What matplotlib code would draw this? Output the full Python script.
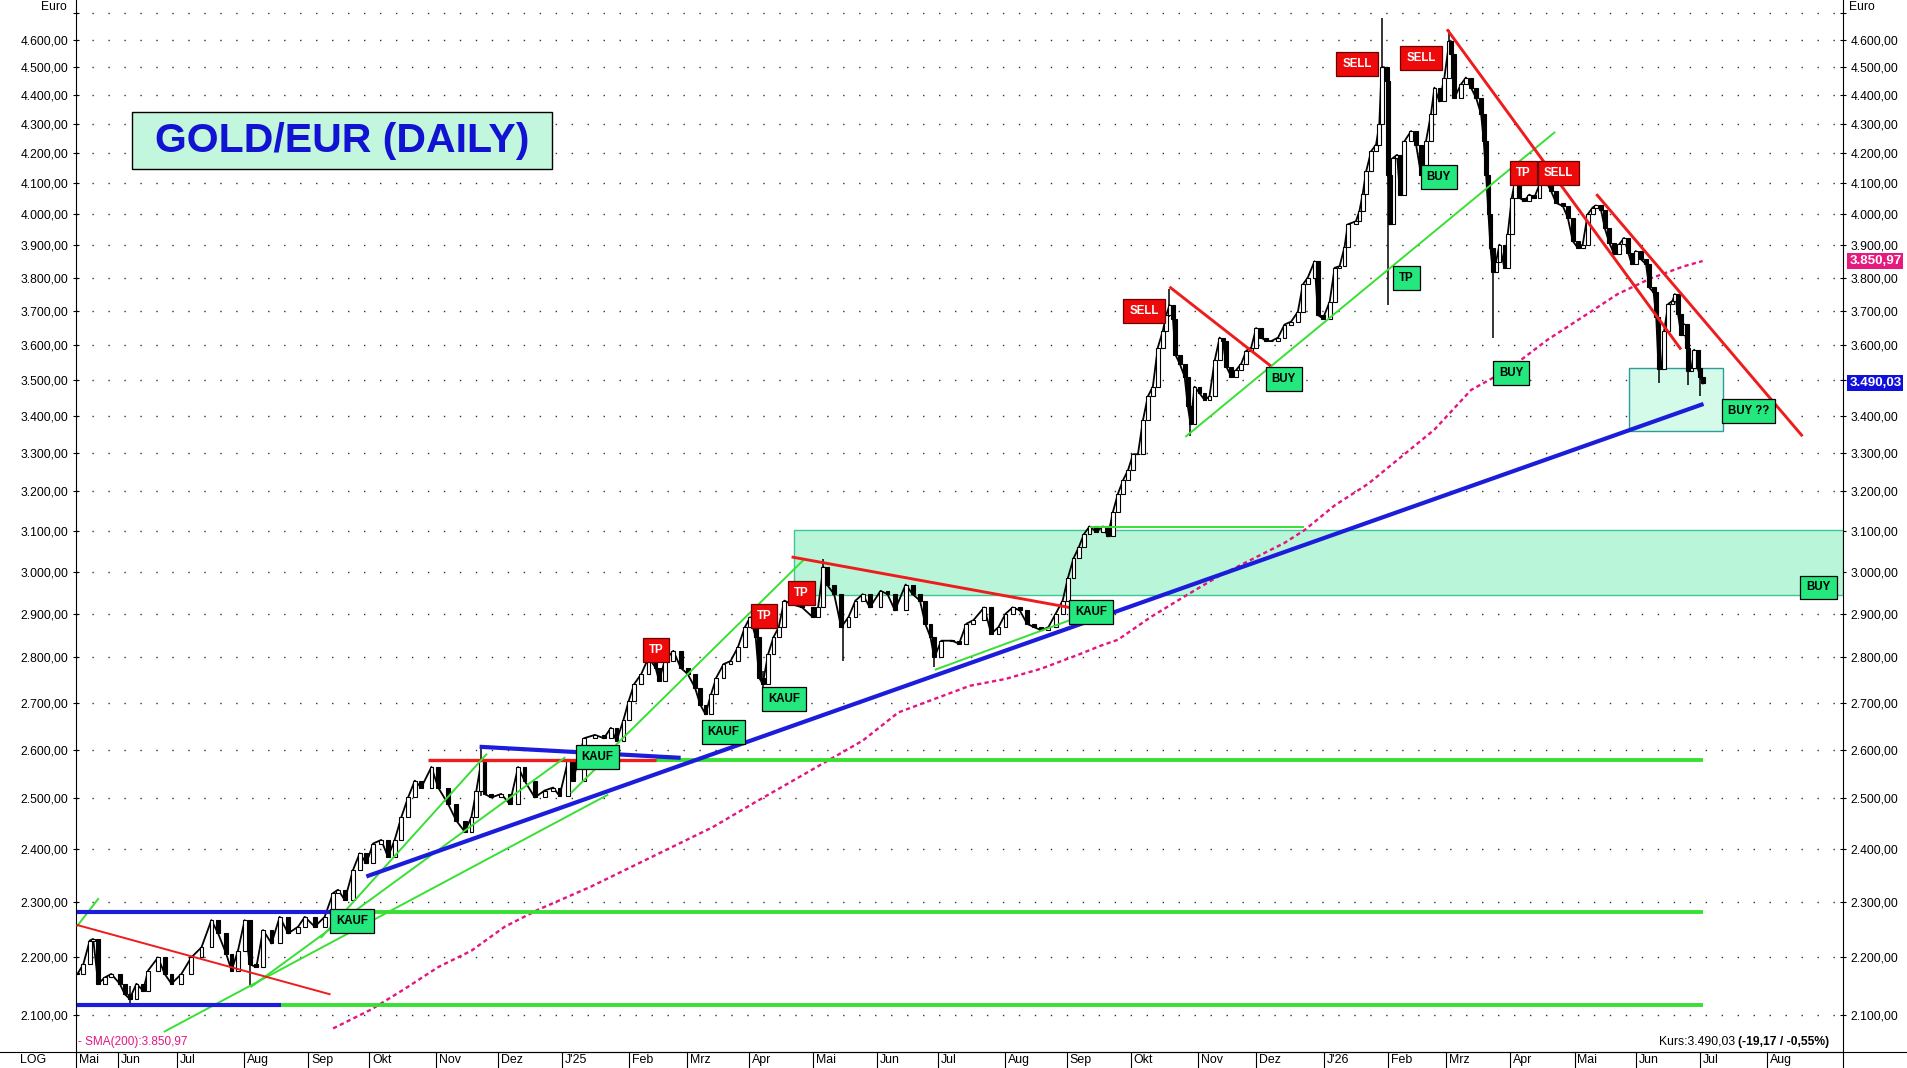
"""GOLD/EUR daily chart with trade annotations (KAUF / BUY / TP / SELL)."""
import matplotlib
matplotlib.use("Agg")
import matplotlib.pyplot as plt
import matplotlib.transforms as mtransforms
from matplotlib.lines import Line2D
from matplotlib.patches import Rectangle
from matplotlib.ticker import FixedLocator, NullLocator, FuncFormatter
import numpy as np
import pandas as pd

plt.rcParams["font.family"] = ["Liberation Sans", "DejaVu Sans"]

# trading-day index (0 = 14.05.2024) and close in EUR
day = [
    0.0, 2.0, 4.2, 5.4, 7.1, 9.4, 11.6, 14.5, 16.2, 17.9, 20.2, 22.5, 24.2, 27.6, 29.9,
    32.2, 35.6, 39.0, 42.5, 45.9, 48.2, 51.0, 52.8, 55.0, 57.3, 59.0, 61.3, 63.6, 66.5,
    69.3, 72.2, 75.6, 77.9, 81.3, 84.7, 87.6, 89.3, 91.6, 94.4, 96.7, 99.0, 101.3, 104.1,
    106.4, 108.7, 111.0, 113.3, 115.6, 117.8, 121.3, 123.6, 127.0, 129.8, 132.7, 135.0,
    136.7, 138.4, 139.5, 141.8, 145.2, 148.1, 151.0, 153.2, 156.7, 160.1, 163.0, 165.2,
    168.1, 169.8,
    173.6, 177.3, 180.4, 182.8, 184.7, 187.1, 188.9, 190.8, 193.2, 195.7, 198.1, 199.3,
    201.2, 204.2, 206.7, 209.1, 211.6, 213.4, 215.2, 217.1, 218.9, 221.4, 223.8, 226.3,
    228.7, 230.5, 232.4, 233.6, 234.8, 236.7, 238.5, 240.3, 242.2, 244.6, 248.3, 252.0,
    253.8, 255.6, 256.8, 259.3, 261.7, 264.2, 266.6, 269.1, 271.5, 275.2, 277.6, 280.1,
    283.8, 286.2, 288.7, 290.5, 292.3, 293.6, 296.0, 299.7, 302.1, 304.6, 307.0, 310.7,
    313.1, 315.6, 318.0, 320.5, 322.9, 325.4, 327.8, 330.3, 332.7, 335.2, 337.6, 339.4,
    341.3, 343.1, 344.9,
    346.8, 349.1, 351.4, 353.1, 354.8, 356.5, 358.3, 360.0, 361.7, 363.4, 365.1, 366.8,
    368.5, 370.2, 371.9, 373.1, 374.2, 375.4, 376.2, 377.7, 379.4, 380.5, 381.4, 382.8,
    384.5, 386.2, 387.9, 389.7, 391.4, 392.5, 393.7, 395.4, 397.1, 398.8, 400.5, 402.2,
    403.9, 405.6, 407.4, 409.1, 411.4, 413.6, 415.9, 418.2, 419.9, 421.6, 423.9, 425.1,
    426.8, 429.1, 430.8, 432.5, 434.2,
    435.3, 438.1, 439.3, 440.4, 441.6, 443.3, 445.0, 446.1, 446.9, 447.8, 448.8, 449.2,
    449.7, 450.7, 452.2, 453.2, 454.7, 457.0, 458.7, 460.4, 462.1, 463.8, 465.0, 466.7,
    468.4, 470.1, 470.7, 471.8, 474.1, 475.8, 477.5, 479.3, 481.0, 481.9, 482.7, 483.5,
    484.2, 485.0, 486.1, 487.3, 489.0, 490.1, 491.5, 492.6, 494.1, 495.8, 497.5, 499.2,
    501.0, 503.2, 505.0, 506.7, 509.0, 510.7, 512.4, 514.1, 515.8, 517.5, 519.2,
    520.3, 522.1, 523.4, 524.9, 526.6, 528.3, 530.0, 531.4, 532.6, 534.0, 535.8, 537.5,
    538.6, 540.1, 541.0, 541.8, 542.8, 543.7, 545.1, 546.6, 547.4, 548.5, 549.5, 550.6,
    551.5, 552.0, 553.1, 554.0, 555.2, 556.1, 557.0,
]
close = [
    2171, 2188, 2230, 2233, 2154, 2165, 2171, 2154, 2136, 2128, 2154, 2142, 2177, 2200, 2171,
    2154, 2171, 2200, 2218, 2267, 2243, 2206, 2177, 2212, 2267, 2188, 2183, 2249, 2225,
    2273, 2243, 2255, 2273, 2255, 2273, 2317, 2323, 2304, 2360, 2392, 2373, 2411, 2418,
    2385, 2418, 2463, 2502, 2536, 2522, 2564, 2522, 2489, 2456, 2434, 2463,
    2516, 2577, 2509, 2502, 2509, 2489, 2564, 2536, 2502, 2516, 2522, 2505,
    2577, 2536,
    2624, 2631, 2624, 2646, 2618, 2663, 2704, 2741, 2763, 2800, 2777, 2748,
    2792, 2815, 2777, 2763, 2733, 2696, 2675, 2718, 2755, 2785, 2792, 2823,
    2869, 2892, 2846, 2755, 2741, 2808, 2846, 2869, 2931, 2923, 2915, 2892,
    2915, 3012, 2969, 2946, 2869, 2892, 2931, 2946, 2915, 2954, 2946, 2908,
    2969, 2946, 2931, 2877, 2846, 2800, 2838, 2838, 2831, 2877, 2885, 2915,
    2854, 2869, 2900, 2915, 2908, 2877, 2869, 2862, 2869, 2900, 2931, 2985,
    3032, 3059, 3092,
    3111, 3098, 3111, 3086, 3147, 3193, 3229, 3255, 3297, 3297, 3388, 3454,
    3481, 3592, 3640, 3687, 3717, 3677, 3572, 3546, 3509, 3426, 3379, 3481,
    3463, 3444, 3454, 3555, 3621, 3611, 3537, 3509, 3528, 3546, 3583, 3592,
    3649, 3621, 3611, 3611, 3621, 3659, 3668, 3697, 3779, 3800, 3850, 3687,
    3677, 3727, 3830, 3835, 3895,
    3966, 3976, 4009, 4064, 4139, 4206, 4229, 4298, 4500, 4500, 4451, 4128,
    3966, 4183, 4194, 4062, 4240, 4275, 4229, 4128, 4240, 4333, 4427, 4378,
    4463, 4596, 4548, 4390, 4439, 4463, 4427, 4390, 4333, 4240, 4128, 3998,
    3892, 3818, 3849, 3902, 3829, 3934, 4052, 4106, 4052, 4041, 4062, 4052,
    4095, 4106, 4073, 4035, 4025, 3987, 3913, 3892, 3902, 3998, 4020,
    4027, 4011, 3953, 3908, 3872, 3903, 3923, 3877, 3841, 3882, 3856, 3841,
    3770, 3755, 3680, 3532, 3532, 3640, 3720, 3730, 3750, 3690, 3630, 3660,
    3590, 3524, 3533, 3586, 3533, 3509, 3490,
]
# long shadows of the spike candles
wick_day = [17.9, 59.0, 138.4, 234.8, 255.6, 262.4, 293.6, 374.2, 381.4, 446.9, 449.2,
            470.1, 485.0, 541.8, 552.0, 556.1]
wick_lo = [2120, 2152, 2505, 2730, 2965, 2792, 2778, 3680, 3345, 4300, 3718, 4550, 3620,
           3490, 3485, 3455]
wick_hi = [2150, 2200, 2601, 2770, 3030, 2880, 2810, 3766, 3400, 4680, 4450, 4635, 3830,
           3540, 3530, 3510]

# 200-day moving average
sma_day = [87.6, 100.7, 112.1, 123.6, 135.0, 146.4, 157.8, 176.0, 217.7, 232.4, 244.6,
           256.8, 269.1, 281.3, 293.6, 305.8, 318.0, 330.3, 342.5, 350.8, 356.5, 367.9,
           379.4, 390.8, 402.2, 413.6, 420.5, 430.8, 442.2, 453.6, 465.0, 477.6, 490.6,
           503.8, 516.4, 527.8, 539.2, 550.6, 556.9]
sma_val = [2078, 2110, 2145, 2183, 2212, 2255, 2286, 2329, 2443, 2493, 2534,
           2576, 2619, 2679, 2708, 2737, 2752, 2775, 2805, 2827, 2840, 2893,
           2941, 2988, 3029, 3070, 3102, 3164, 3219, 3290, 3363, 3472, 3531,
           3615, 3685, 3750, 3798, 3835, 3851]

last_close = 3490.03
last_sma = 3850.97
change = -19.17
change_pct = -0.55

# drawn lines: (day0, price0, day1, price1)
blue_lines = [(0, 2281, 86.5, 2281), (0, 2118, 69.9, 2118), (137.8, 2606, 206.7, 2583),
              (99.0, 2348, 557.2, 3433)]
green_levels = [(86.5, 2281, 557, 2281), (69.9, 2118, 557, 2118), (198.1, 2578, 557, 2578)]
red_levels = [(120.1, 2579, 198.1, 2579)]
green_trends = [(0, 2257, 7.1, 2306), (83.6, 2236, 140.1, 2590), (59.6, 2149, 166.9, 2583),
                (29.9, 2073, 181.6, 2507), (169.3, 2512, 185.3, 2607),
                (184.7, 2611, 248.9, 3029), (294.1, 2773, 340.0, 2885),
                (379.9, 3345, 506.1, 4270), (347.4, 3110, 419.9, 3110)]
red_trends = [(245.2, 3035, 339.8, 2915), (374.6, 3769, 408.5, 3542),
              (469.6, 4635, 549.2, 3590), (520.8, 4060, 590.8, 3348)]
red_trend_2024 = (0, 2258, 86.4, 2136)

# zones: (day0, day1, low, high)
zone_big = (245.5, 605, 2945, 3102)
zone_small = (531.8, 563.8, 3360, 3533)

# signal labels
green_text = ["KAUF", "KAUF", "KAUF", "KAUF", "KAUF", "BUY", "TP", "BUY", "BUY", "BUY ??", "BUY"]
green_day = [94.2, 178.2, 221.4, 242.1, 347.4, 413.4, 455.4, 466.5, 491.2, 572.6, 596.6]
green_price = [2265, 2585, 2637, 2707, 2904, 3503, 3800, 4121, 3520, 3413, 2962]
red_text = ["TP", "TP", "TP", "SELL", "SELL", "SELL", "TP", "SELL"]
red_day = [198.2, 235.2, 248.1, 365.5, 438.5, 460.4, 495.5, 507.6]
red_price = [2816, 2894, 2948, 3699, 4511, 4535, 4134, 4134]

levels = list(range(2100, 4800, 100))
month_labels = ["Mai", "Jun", "Jul", "Aug", "Sep", "Okt", "Nov", "Dez", "J'25", "Feb", "Mrz",
                "Apr", "Mai", "Jun", "Jul", "Aug", "Sep", "Okt", "Nov", "Dez", "J'26", "Feb",
                "Mrz", "Apr", "Mai", "Jun", "Jul", "Aug"]


def de(v, nd=2):
    s = f"{v:,.{nd}f}"
    return s.replace(",", "X").replace(".", ",").replace("X", ".")


BLUE = "#1c1cdb"
GREEN = "#38e034"
RED = "#ee1c1c"
PINK = "#e3157f"

W, H = 1907, 1068
fig = plt.figure(figsize=(W / 100, H / 100), dpi=100, facecolor="white")
ax = fig.add_axes([76 / W, 16 / H, (1843 - 76) / W, 1052 / H])
ax.set_yscale("log")

# zones
for x0, x1, lo, hi in [zone_big]:
    ax.add_patch(Rectangle((x0, lo), x1 - x0, hi - lo, fc="#b9f6d9", ec="#3cc894", lw=1.0, zorder=1))
for x0, x1, lo, hi in [zone_small]:
    ax.add_patch(Rectangle((x0, lo), x1 - x0, hi - lo, fc="#d4faea", ec="#2f9a9a", lw=1.0, zorder=1))

ax.plot(sma_day, sma_val, color=PINK, lw=1.7, ls=(0, (1.8, 1.4)), zorder=2)

# candles: body from previous close to close
d = np.array(day)
c = np.array(close, dtype=float)
o = np.r_[c[0], c[:-1]]
up = c >= o
ax.plot(d, c, color="black", lw=1.3, zorder=3)
ax.vlines(wick_day, wick_lo, wick_hi, color="black", lw=1.1, zorder=3.1)
ax.bar(d[up], np.maximum(c - o, 1.5)[up], bottom=o[up], width=1.3, color="white",
       edgecolor="black", linewidth=0.8, zorder=3.2)
ax.bar(d[~up], (o - c)[~up], bottom=c[~up], width=1.3, color="black",
       edgecolor="black", linewidth=0.8, zorder=3.2)

for x0, y0, x1, y1 in green_levels:
    ax.plot([x0, x1], [y0, y1], color=GREEN, lw=2.8, solid_capstyle="butt", zorder=4)
for x0, y0, x1, y1 in red_levels:
    ax.plot([x0, x1], [y0, y1], color=RED, lw=2.4, solid_capstyle="butt", zorder=4)
for x0, y0, x1, y1 in green_trends:
    ax.plot([x0, x1], [y0, y1], color=GREEN, lw=1.4, zorder=4)
ax.plot(red_trend_2024[0::2], red_trend_2024[1::2], color=RED, lw=1.4, zorder=4)
for x0, y0, x1, y1 in red_trends:
    ax.plot([x0, x1], [y0, y1], color=RED, lw=2.1, zorder=4)
for x0, y0, x1, y1 in blue_lines:
    ax.plot([x0, x1], [y0, y1], color=BLUE, lw=3.0, solid_capstyle="butt", zorder=4.5)


def tag(x, y, s, fc, tc, ec):
    ax.text(x, y, s, ha="center", va="center", fontsize=8.3, fontweight="bold", color=tc,
            zorder=8, bbox=dict(boxstyle="square,pad=0.52", fc=fc, ec=ec, lw=0.9))


for s, x, y in zip(green_text, green_day, green_price):
    tag(x, y, s, "#24e87e", "black", "black")
for s, x, y in zip(red_text, red_day, red_price):
    tag(x, y, s, "#ee0a0a", "white", "#6a0000")

# axes
ax.set_xlim(-0.5, 605)
ax.set_ylim(2039, 4750)
ax.yaxis.set_major_locator(FixedLocator(levels))
ax.yaxis.set_minor_locator(NullLocator())
ax.yaxis.set_major_formatter(FuncFormatter(lambda v, p: de(v) if v < 4650 else ""))
ax.tick_params(axis="y", direction="inout", length=5, width=0.8, labelsize=8.7,
               left=True, right=True, labelleft=True, labelright=True, pad=3)
ax.grid(axis="y", color="#333333", lw=1.0, ls=(0, (1, 10.5)))
ax.set_axisbelow(True)

bd = pd.bdate_range("2024-05-14", "2026-08-31")
starts = [i for i in range(1, len(bd)) if bd[i].month != bd[i - 1].month]
month_pos = [-0.5] + starts[:len(month_labels) - 1]
ax.set_xticks(month_pos[1:])
ax.set_xticklabels([])
ax.tick_params(axis="x", direction="out", length=12, width=0.8)
for pos, lab in zip(month_pos, month_labels):
    ax.text(pos + 1.0, -0.0078, lab, transform=ax.get_xaxis_transform(), ha="left",
            va="center", fontsize=8.9, clip_on=False)

for side in ("left", "right", "bottom"):
    ax.spines[side].set_color("black")
    ax.spines[side].set_linewidth(0.8)
ax.spines["top"].set_visible(False)

fig.add_artist(Line2D([0, 1], [16 / H, 16 / H], color="black", lw=0.8))
fig.add_artist(Line2D([76 / W, 76 / W], [0, 16 / H], color="black", lw=0.8))
fig.add_artist(Line2D([1843 / W, 1843 / W], [0, 16 / H], color="black", lw=0.8))

# price tags on the right axis
rt = mtransforms.blended_transform_factory(ax.transAxes, ax.transData)
ax.text(1.0035, last_sma, de(last_sma), transform=rt, ha="left", va="center", fontsize=9.6,
        fontweight="bold", color="white", clip_on=False, zorder=9,
        bbox=dict(boxstyle="square,pad=0.15", fc="#e6197f", ec="none"))
ax.text(1.0035, last_close, de(last_close), transform=rt, ha="left", va="center", fontsize=9.6,
        fontweight="bold", color="white", clip_on=False, zorder=9,
        bbox=dict(boxstyle="square,pad=0.15", fc="#1010dc", ec="none"))

# texts around the frame
fig.text(67 / W, 1 - 7 / H, "Euro", ha="right", va="center", fontsize=8.7)
fig.text(1849 / W, 1 - 7 / H, "Euro", ha="left", va="center", fontsize=8.7)
fig.text(33 / W, 8 / H, "LOG", ha="center", va="center", fontsize=8.9)
fig.text(78 / W, 1 - 1042 / H, "- SMA(200):" + de(last_sma), ha="left", va="center",
         fontsize=8.5, color=PINK)
kb = fig.text(1829 / W, 1 - 1042 / H, f"({de(change)} / {de(change_pct)}%)", ha="right",
              va="center", fontsize=8.7, fontweight="bold")
fig.canvas.draw()
x0 = kb.get_window_extent().x0
fig.text((x0 - 3) / W, 1 - 1042 / H, "Kurs:" + de(last_close), ha="right", va="center",
         fontsize=8.7)

# title box
fig.add_artist(Rectangle((132 / W, 1 - 169 / H), 420 / W, 57 / H, transform=fig.transFigure,
                         fc="#c2f7dd", ec="black", lw=1.0, zorder=10))
fig.text(342 / W, 1 - 140.5 / H, "GOLD/EUR (DAILY)", ha="center", va="center", fontsize=29.5,
         fontweight="bold", color="#1212d2", zorder=11)

fig.savefig("out.png", dpi=100, facecolor="white")
